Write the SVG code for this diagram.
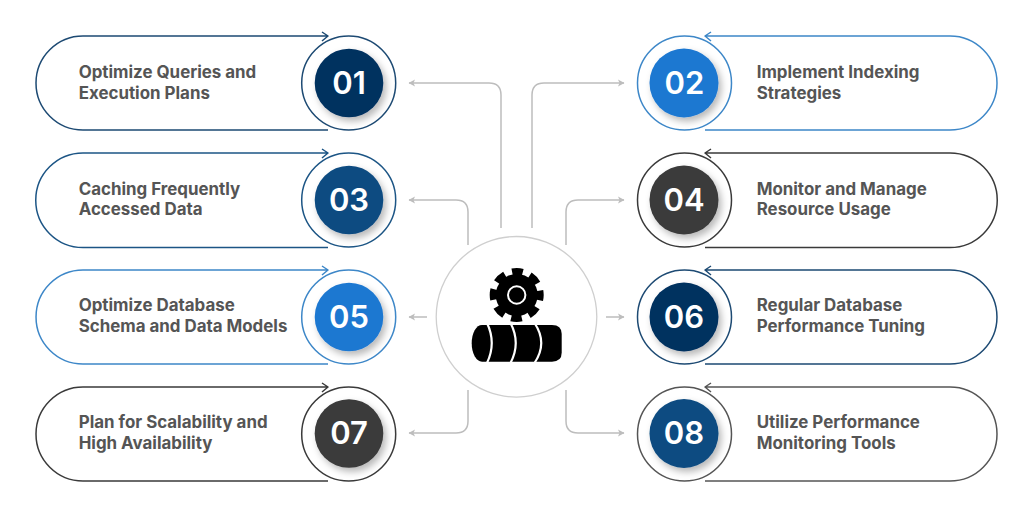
<svg xmlns="http://www.w3.org/2000/svg" width="1024" height="514" viewBox="0 0 1024 514">
<style>
.pill{fill:none;stroke-width:1.5;stroke-linejoin:round}
.ring{fill:#fff;stroke-width:1.5}
.disc{filter:url(#sh)}
.lab{font-family:Inter,"Liberation Sans",sans-serif;font-weight:700;font-size:16.9px;fill:#555}
.num{font-family:Inter,"Liberation Sans",sans-serif;font-weight:600;font-size:31px;fill:#fff;text-anchor:middle}
.con{fill:none;stroke:#bdbdbd;stroke-width:1.5;marker-end:url(#ar)}
.navy{stroke:#1d4a73}.mid{stroke:#1c5585}.blue{stroke:#3d87c8}.dark{stroke:#3a3a3a}.gray{stroke:#555}
</style>
<defs>
<filter id="sh" x="-30%" y="-30%" width="170%" height="170%"><feDropShadow dx="3" dy="4" stdDeviation="3.5" flood-color="#000" flood-opacity=".28"/></filter>
<marker id="ar" markerWidth="9" markerHeight="10" refX="7" refY="4" orient="auto" markerUnits="userSpaceOnUse"><path d="M1 .5L7.5 4L1 7.5L2.5 4Z" fill="#bdbdbd"/></marker>
</defs>
<rect width="1024" height="514" fill="#fff"/>
<g id="connectors">
<path class="con" d="M501 228V95Q501 83 489 83H409"/>
<path class="con" d="M532 228V95Q532 83 544 83H624"/>
<path class="con" d="M468 245V212Q468 200 456 200H409"/>
<path class="con" d="M566 245V212Q566 200 578 200H624"/>
<path class="con" d="M427 317H409"/>
<path class="con" d="M606 317H624"/>
<path class="con" d="M468 390V421Q468 433 456 433H409"/>
<path class="con" d="M566 390V421Q566 433 578 433H624"/>
</g>
<g id="hub">
<circle cx="516.5" cy="316.8" r="80.3" fill="#fff" stroke="#cfcfcf" stroke-width="1.3"/>
<circle cx="516.7" cy="295" r="21" fill="#000"/>
<circle cx="516.7" cy="295" r="22.700" fill="none" stroke="#000" stroke-width="8.600" stroke-dasharray="10.500 7.330" stroke-dashoffset="5.250"/>
<circle cx="516.7" cy="295" r="8.700" fill="#000" stroke="#fff" stroke-width="2"/>
<path d="M482 325H552Q561.7 325 561.7 334V352.5Q561.7 361.7 552 361.7H482A10.3 18.35 0 0 1 482 325Z" fill="#000"/>
<path d="M487 323Q496.500 343 487 363M510.500 323Q521 343 510.500 363M534.500 323Q548 343 534.500 363" fill="none" stroke="#fff" stroke-width="2.200"/>
</g>
<g id="n01"><path class="pill navy" d="M328 130H83A47 47 0 0 1 83 36H328M322 32L328 36L322 41"/><circle class="ring navy" cx="348.7" cy="83" r="47"/><circle class="disc" cx="349" cy="83" r="34.3" fill="#04305f"/><text class="num" x="349" y="93.500">01</text><text class="lab" x="78.700" y="78">Optimize Queries and</text><text class="lab" x="78.700" y="98.500">Execution Plans</text></g>
<g id="n02"><path class="pill blue" d="M705 130H950A47 47 0 0 0 950 36H705M711 32L705 36L711 41"/><circle class="ring blue" cx="684.500" cy="83" r="47"/><circle class="disc" cx="684" cy="83" r="34.500" fill="#1f78d1"/><text class="num" x="684.500" y="93.500">02</text><text class="lab" x="756.700" y="78">Implement Indexing</text><text class="lab" x="756.700" y="98.500">Strategies</text></g>
<g id="n03"><path class="pill mid" d="M328 247.500H83A47 47 0 0 1 83 153H328M322 149L328 153L322 158"/><circle class="ring mid" cx="348.7" cy="200" r="47"/><circle class="disc" cx="349" cy="200" r="34.300" fill="#0f4c81"/><text class="num" x="349" y="210.500">03</text><text class="lab" x="78.700" y="194.500">Caching Frequently</text><text class="lab" x="78.700" y="215">Accessed Data</text></g>
<g id="n04"><path class="pill dark" d="M705 247.500H950A47 47 0 0 0 950 153H705M711 149L705 153L711 158"/><circle class="ring dark" cx="684.500" cy="200" r="47"/><circle class="disc" cx="684" cy="200" r="34.500" fill="#3a3a3a"/><text class="num" x="684" y="210.500">04</text><text class="lab" x="756.700" y="194.500">Monitor and Manage</text><text class="lab" x="756.700" y="215">Resource Usage</text></g>
<g id="n05"><path class="pill blue" d="M328 364H83A47 47 0 0 1 83 270H328M322 266L328 270L322 275"/><circle class="ring blue" cx="348.7" cy="317" r="47"/><circle class="disc" cx="349" cy="317" r="34.300" fill="#1f78d1"/><text class="num" x="349" y="327.500">05</text><text class="lab" x="78.700" y="311">Optimize Database</text><text class="lab" x="78.700" y="331.500">Schema and Data Models</text></g>
<g id="n06"><path class="pill navy" d="M705 364H950A47 47 0 0 0 950 270H705M711 266L705 270L711 275"/><circle class="ring navy" cx="684.500" cy="317" r="47"/><circle class="disc" cx="684" cy="317" r="34.500" fill="#04305f"/><text class="num" x="684" y="327.500">06</text><text class="lab" x="756.700" y="311">Regular Database</text><text class="lab" x="756.700" y="331.500">Performance Tuning</text></g>
<g id="n07"><path class="pill dark" d="M328 481H83A47 47 0 0 1 83 387H328M322 383L328 387L322 392"/><circle class="ring dark" cx="348.7" cy="434" r="47"/><circle class="disc" cx="349" cy="433.500" r="34.300" fill="#3a3a3a"/><text class="num" x="349" y="444">07</text><text class="lab" x="78.700" y="428">Plan for Scalability and</text><text class="lab" x="78.700" y="448.500">High Availability</text></g>
<g id="n08"><path class="pill gray" d="M705 481H950A47 47 0 0 0 950 387H705M711 383L705 387L711 392"/><circle class="ring gray" cx="684.500" cy="434" r="47"/><circle class="disc" cx="684" cy="433.500" r="34.500" fill="#0f4c81"/><text class="num" x="684" y="444">08</text><text class="lab" x="756.700" y="428">Utilize Performance</text><text class="lab" x="756.700" y="448.500">Monitoring Tools</text></g>
</svg>
